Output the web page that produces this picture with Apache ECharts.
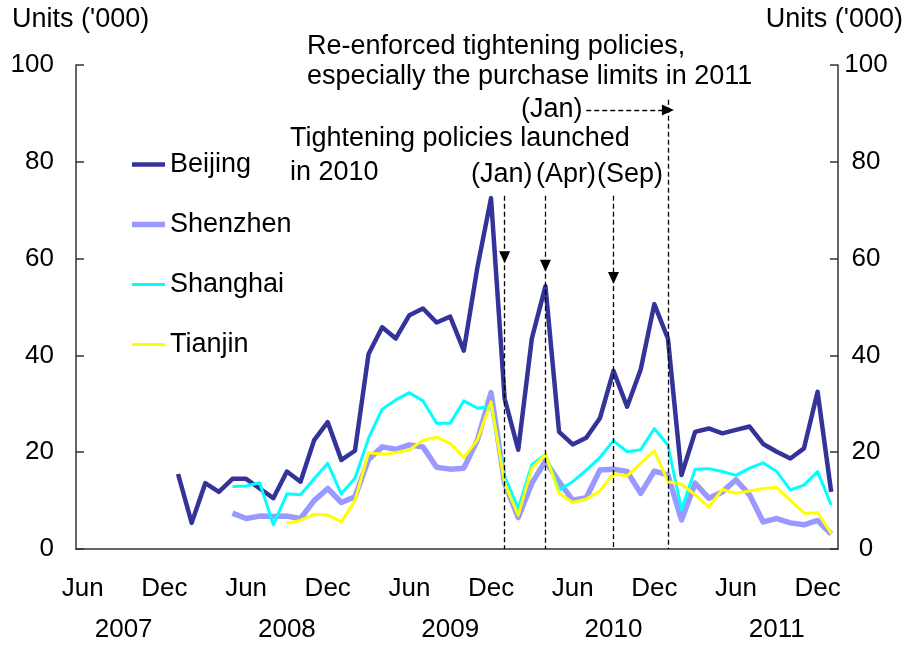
<!DOCTYPE html>
<html>
<head>
<meta charset="utf-8">
<title>Housing sales in major cities</title>
<script src="https://cdn.jsdelivr.net/npm/echarts@6/dist/echarts.min.js"></script>
<style>
html, body { margin: 0; padding: 0; background: #fff; }
#chart { width: 913px; height: 648px; }
</style>
</head>
<body>
<div id="chart"></div>
<script>
// monthly, Jun 2007 - Jan 2012
var months = [
  'Jun 2007', 'Jul 2007', 'Aug 2007', 'Sep 2007', 'Oct 2007', 'Nov 2007', 'Dec 2007',
  'Jan 2008', 'Feb 2008', 'Mar 2008', 'Apr 2008', 'May 2008', 'Jun 2008', 'Jul 2008', 'Aug 2008', 'Sep 2008', 'Oct 2008', 'Nov 2008', 'Dec 2008',
  'Jan 2009', 'Feb 2009', 'Mar 2009', 'Apr 2009', 'May 2009', 'Jun 2009', 'Jul 2009', 'Aug 2009', 'Sep 2009', 'Oct 2009', 'Nov 2009', 'Dec 2009',
  'Jan 2010', 'Feb 2010', 'Mar 2010', 'Apr 2010', 'May 2010', 'Jun 2010', 'Jul 2010', 'Aug 2010', 'Sep 2010', 'Oct 2010', 'Nov 2010', 'Dec 2010',
  'Jan 2011', 'Feb 2011', 'Mar 2011', 'Apr 2011', 'May 2011', 'Jun 2011', 'Jul 2011', 'Aug 2011', 'Sep 2011', 'Oct 2011', 'Nov 2011', 'Dec 2011',
  'Jan 2012'
];

// units ('000)
var beijing = [null, null, null, null, null, null, null,
  15.5, 5.4, 13.6, 11.8, 14.5, 14.5, 12.5, 10.5, 16.0, 13.9, 22.5, 26.2,
  18.4, 20.3, 40.3, 45.8, 43.5, 48.3, 49.7, 46.8, 48.0, 41.0, 58.2, 72.5,
  31.1, 20.5, 43.5, 54.3, 24.2, 21.6, 23.0, 27.0, 36.8, 29.4, 37.1, 50.6,
  43.5, 15.3, 24.2, 24.9, 23.9, 24.6, 25.3, 21.7, 20.1, 18.7, 20.8, 32.5,
  11.8];
var shenzhen = [null, null, null, null, null, null, null,
  null, null, null, null, 7.4, 6.3, 6.8, 6.7, 6.8, 6.3, 10.0, 12.5,
  9.6, 10.8, 18.5, 21.1, 20.6, 21.5, 21.1, 16.9, 16.5, 16.7, 22.5, 32.3,
  13.6, 6.5, 13.6, 18.2, 13.9, 10.1, 10.6, 16.3, 16.5, 16.0, 11.5, 16.1,
  15.3, 6.0, 13.6, 10.5, 11.8, 14.3, 11.2, 5.6, 6.3, 5.4, 5.0, 5.9,
  3.1];
var shanghai = [null, null, null, null, null, null, null,
  null, null, null, null, 12.9, 13.0, 13.7, 5.0, 11.4, 11.2, 14.5, 17.7,
  11.4, 14.6, 22.9, 28.9, 30.8, 32.3, 30.6, 26.0, 26.0, 30.6, 29.1, 29.5,
  15.0, 8.4, 17.4, 19.6, 12.2, 13.9, 16.3, 18.9, 22.4, 20.1, 20.5, 24.9,
  21.5, 8.1, 16.5, 16.6, 16.0, 15.2, 16.7, 17.8, 16.0, 12.2, 13.2, 16.0,
  9.1];
var tianjin = [null, null, null, null, null, null, null,
  null, null, null, null, null, null, null, null, 5.3, 5.9, 7.2, 7.0,
  5.6, 10.0, 19.9, 19.6, 19.9, 20.5, 22.5, 23.1, 21.8, 18.9, 22.5, 30.4,
  13.6, 7.0, 16.7, 19.6, 11.5, 9.6, 10.3, 12.0, 15.6, 15.1, 17.7, 20.3,
  13.9, 13.4, 11.2, 8.7, 12.3, 11.5, 12.0, 12.5, 12.7, 10.1, 7.4, 7.5,
  3.2];

var yTicks = [0, 20, 40, 60, 80, 100];

// policy markers
var policy2010 = ['Jan 2010', 'Apr 2010', 'Sep 2010'];
var policy2010Tips = [60.3, 58.5, 56.0];
var policy2011 = 'Jan 2011';
var policy2011From = 'Jul 2010';

var font = 'Arial, "Liberation Sans", sans-serif';
var noteFont = '27px ' + font;
var axisColor = '#333';

var chart = echarts.init(document.getElementById('chart'));

var notes = [];
policy2010.forEach(function (m, k) {
  notes.push([{ coord: [m, 73] }, { coord: [m, policy2010Tips[k]], symbol: 'triangle' }]);
  notes.push([{ coord: [m, policy2010Tips[k]] }, { coord: [m, 0] }]);
});
notes.push([{ coord: [policy2011, 92.8] }, { coord: [policy2011, 0] }]);
notes.push([{ coord: [policy2011From, 90.7] }, { coord: [policy2011, 90.7], symbol: 'triangle' }]);

function yAxisOf(pos) {
  return {
    type: 'value',
    position: pos,
    min: yTicks[0],
    max: yTicks[yTicks.length - 1],
    interval: 20,
    splitLine: { show: false },
    axisLine: { show: true, lineStyle: { color: axisColor, width: 1.5 } },
    axisTick: { show: true, inside: true, length: 8, lineStyle: { color: axisColor, width: 1.5 } },
    axisLabel: {
      color: '#000', fontSize: 26, fontFamily: font,
      margin: pos === 'left' ? 22 : 28,
      align: pos === 'left' ? 'right' : 'center'
    }
  };
}

function lineSeries(name, data, color, width) {
  return {
    name: name,
    type: 'line',
    data: data,
    symbol: 'none',
    z: 3,
    lineStyle: { color: color, width: width, join: 'round' },
    itemStyle: { color: color }
  };
}

// flat bar used as legend key, thickness = line width
function keyIcon(w) {
  return 'path://M0,0H33V' + w + 'H0Z';
}

chart.setOption({
  animation: false,
  grid: { left: 76, right: 75, top: 65, bottom: 99 },
  legend: {
    orient: 'vertical',
    left: 132,
    top: 151,
    padding: 0,
    itemWidth: 33,
    itemHeight: 14,
    itemGap: 33,
    textStyle: { color: '#000', fontSize: 27, fontFamily: font },
    data: [
      { name: 'Beijing', icon: keyIcon(4.5) },
      { name: 'Shenzhen', icon: keyIcon(5.5) },
      { name: 'Shanghai', icon: keyIcon(3) },
      { name: 'Tianjin', icon: keyIcon(3) }
    ]
  },
  xAxis: [
    {
      type: 'category',
      data: months,
      axisLine: { lineStyle: { color: axisColor, width: 1.5 } },
      axisTick: {
        inside: true, length: 8,
        interval: function (i) { return i % 6 === 0; },
        lineStyle: { color: axisColor, width: 1.5 }
      },
      axisLabel: {
        color: '#000', fontSize: 26, fontFamily: font, margin: 27,
        interval: function (i) { return i % 6 === 0; },
        formatter: function (v) { return v.split(' ')[0]; }
      }
    },
    {
      type: 'category',
      data: months,
      position: 'bottom',
      axisLine: { show: false },
      axisTick: { show: false },
      axisLabel: {
        color: '#000', fontSize: 26, fontFamily: font, margin: 68,
        interval: function (i, v) { return v.indexOf('Sep') === 0; },
        formatter: function (v) { return v.split(' ')[1]; }
      }
    }
  ],
  yAxis: [yAxisOf('left'), yAxisOf('right')],
  series: [
    {
      name: 'notes',
      type: 'line',
      data: [],
      z: 1,
      markLine: {
        silent: true,
        animation: false,
        symbol: ['none', 'none'],
        symbolSize: [11, 12],
        label: { show: false },
        lineStyle: { color: '#000', type: [5, 3], width: 1.3 },
        emphasis: { disabled: true },
        data: notes
      }
    },
    lineSeries('Beijing', beijing, '#333399', 4.5),
    lineSeries('Shenzhen', shenzhen, '#9999ff', 5.5),
    lineSeries('Shanghai', shanghai, '#00ffff', 3),
    lineSeries('Tianjin', tianjin, '#ffff00', 3)
  ],
  graphic: [
    { type: 'text', left: 12, top: 6, style: { text: "Units ('000)", font: noteFont, fill: '#000' } },
    { type: 'text', right: 10, top: 6, style: { text: "Units ('000)", font: noteFont, fill: '#000' } },
    { type: 'text', left: 307, top: 32, style: { text: 'Re-enforced tightening policies,\nespecially the purchase limits in 2011', font: noteFont, lineHeight: 30, fill: '#000' } },
    { type: 'text', left: 521, top: 95, style: { text: '(Jan)', font: noteFont, lineHeight: 30, fill: '#000' } },
    { type: 'text', left: 290, top: 122, style: { text: 'Tightening policies launched\nin 2010', font: noteFont, lineHeight: 34, fill: '#000' } },
    { type: 'text', left: 471, top: 160, style: { text: '(Jan)', font: noteFont, lineHeight: 30, fill: '#000' } },
    { type: 'text', left: 536, top: 160, style: { text: '(Apr)', font: noteFont, lineHeight: 30, fill: '#000' } },
    { type: 'text', left: 597, top: 160, style: { text: '(Sep)', font: noteFont, lineHeight: 30, fill: '#000' } }
  ]
});
</script>
</body>
</html>
